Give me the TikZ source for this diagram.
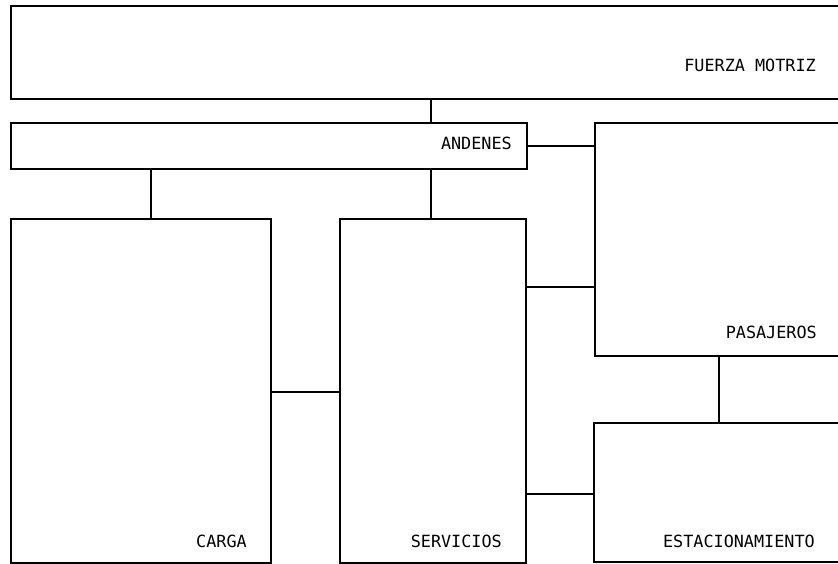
\documentclass[tikz,border=0pt]{standalone}
\usepackage{fontspec}
\newfontfamily\monof{DejaVu Sans Mono}
\begin{document}
\begin{tikzpicture}[x=1pt,y=-1pt,
  box/.style={draw=black,line width=2pt,inner sep=0pt,anchor=north west},
  lbl/.style={inner sep=0pt,anchor=base east,font=\monof\fontsize{16.8}{18}\selectfont},
  link/.style={draw=black,line width=2pt}]
\useasboundingbox (0,0) rectangle (838,564);
\clip (0,0) rectangle (838,564);
\fill[white] (0,0) rectangle (838,564);
% boxes
\node[box,minimum width=840pt,minimum height=93pt] (fm) at (10,5) {};
\node[box,minimum width=516pt,minimum height=46pt] (an) at (10,122) {};
\node[box,minimum width=256pt,minimum height=233pt] (pa) at (594,122) {};
\node[box,minimum width=260pt,minimum height=344pt] (ca) at (10,218) {};
\node[box,minimum width=186pt,minimum height=344pt] (se) at (339,218) {};
\node[box,minimum width=257pt,minimum height=139pt] (es) at (593,422) {};
% labels
\node[lbl] (tfm) at (816,72) {FUERZA MOTRIZ};
\node[lbl] (tan) at (512,150) {ANDENES};
\node[lbl] (tpa) at (817,338) {PASAJEROS};
\node[lbl] (tca) at (247,547) {CARGA};
\node[lbl] (tse) at (502,547) {SERVICIOS};
\node[lbl] (tes) at (815,547) {ESTACIONAMIENTO};
% guide coordinates
\coordinate (xa) at (431,0);
\coordinate (xb) at (151,0);
\coordinate (xc) at (719,0);
\coordinate (yc) at (0,392);
\coordinate (yd) at (0,287);
\coordinate (ye) at (0,494);
% connectors
\draw[link] (fm.south -| xa) -- (an.north -| xa);
\draw[link] (an.east) -- (an.east -| pa.west);
\draw[link] (an.south -| xb) -- (ca.north -| xb);
\draw[link] (an.south -| xa) -- (se.north -| xa);
\draw[link] (yc -| ca.east) -- (yc -| se.west);
\draw[link] (yd -| se.east) -- (yd -| pa.west);
\draw[link] (ye -| se.east) -- (ye -| es.west);
\draw[link] (pa.south -| xc) -- (es.north -| xc);
\end{tikzpicture}
\end{document}
